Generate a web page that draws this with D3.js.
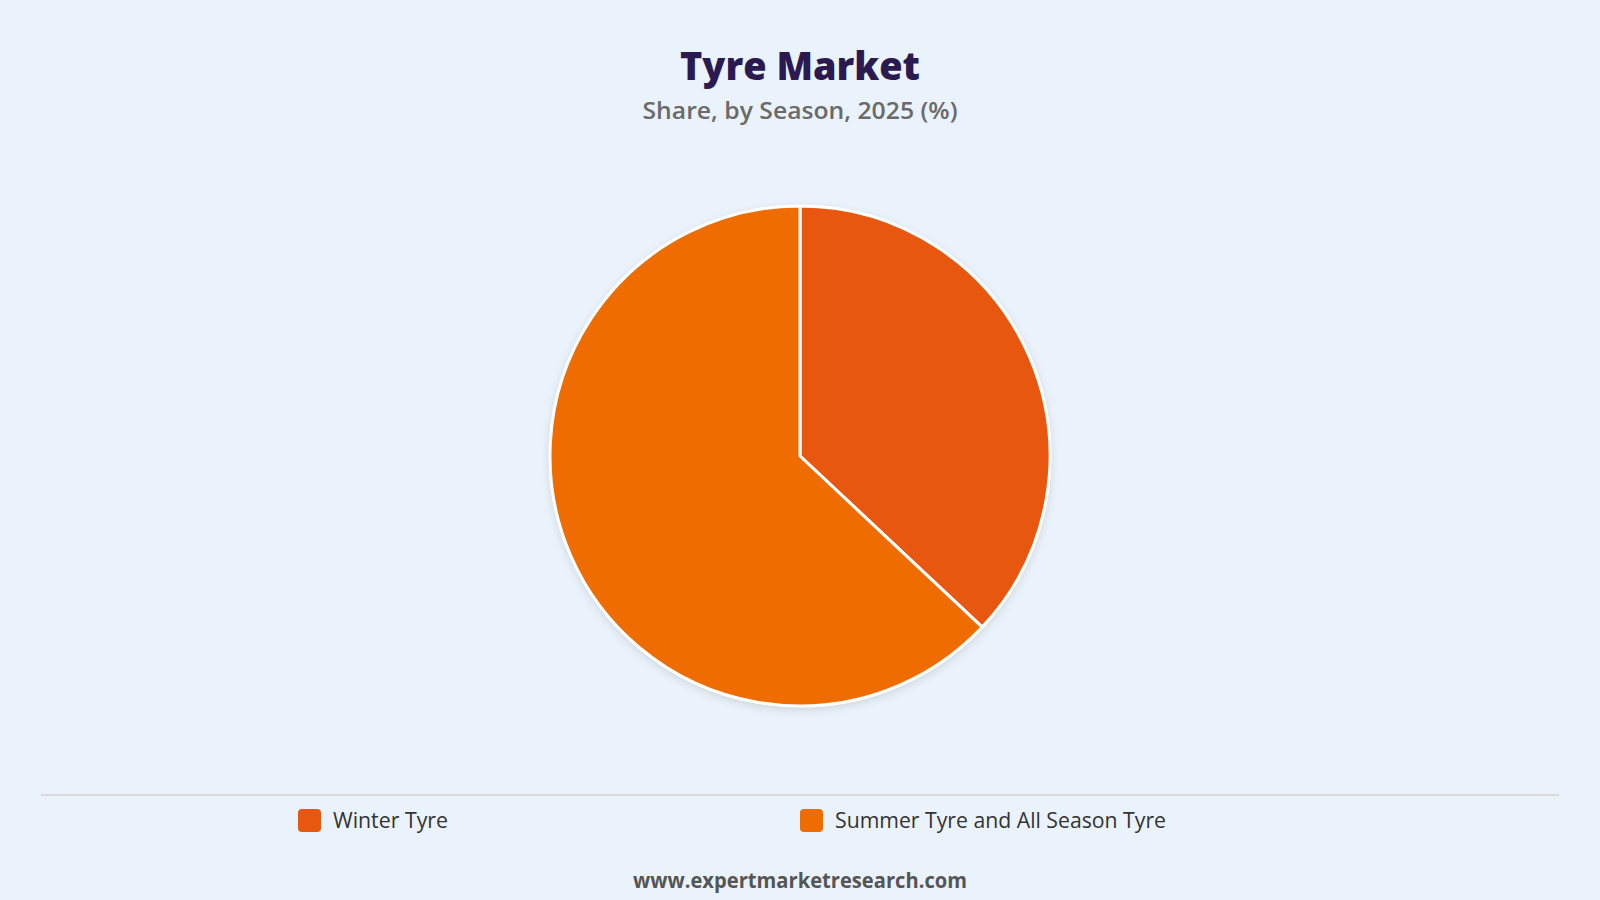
<!DOCTYPE html>
<html>
<head>
<meta charset="utf-8">
<script src="https://cdn.jsdelivr.net/npm/d3@7"></script>
<style>
  body { margin: 0; background: #eaf2fb; }
  svg { display: block; }
</style>
</head>
<body>
<div id="chart"></div>
<script>
var categories = ["Winter Tyre", "Summer Tyre and All Season Tyre"];
var shares = [37, 63];
var colors = ["#e8570f", "#ee6c00"];

var svgWidth = 1600;
var svgHeight = 900;

var svg = d3.select("#chart")
  .append("svg")
  .attr("width", svgWidth)
  .attr("height", svgHeight);

svg.append("rect")
  .attr("width", svgWidth)
  .attr("height", svgHeight)
  .attr("fill", "#eaf2fb");

var defs = svg.append("defs");
var shadow = defs.append("filter")
  .attr("id", "shadow")
  .attr("x", "-20%").attr("y", "-20%")
  .attr("width", "140%").attr("height", "140%");
shadow.append("feDropShadow")
  .attr("dx", 0).attr("dy", 3)
  .attr("stdDeviation", 4)
  .attr("flood-color", "#000")
  .attr("flood-opacity", 0.12);

svg.append("text")
  .attr("x", 800)
  .attr("y", 80)
  .attr("text-anchor", "middle")
  .attr("font-family", "Open Sans, sans-serif")
  .attr("font-weight", 800)
  .attr("font-size", "39px")
  .attr("fill", "#2b1a4f")
  .attr("textLength", 240)
  .attr("lengthAdjust", "spacingAndGlyphs")
  .text("Tyre Market");

svg.append("text")
  .attr("x", 800)
  .attr("y", 119)
  .attr("text-anchor", "middle")
  .attr("font-family", "Open Sans, sans-serif")
  .attr("font-weight", 600)
  .attr("font-size", "24px")
  .attr("fill", "#6a6a6a")
  .attr("textLength", 315)
  .attr("lengthAdjust", "spacingAndGlyphs")
  .text("Share, by Season, 2025 (%)");

var radius = 250;
var pieGroup = svg.append("g")
  .attr("transform", "translate(800, 456)");

var pie = d3.pie().sort(null).value(d => d);
var arc = d3.arc().innerRadius(0).outerRadius(radius);

pieGroup.append("circle")
  .attr("r", radius + 1)
  .attr("fill", "#ffffff")
  .attr("filter", "url(#shadow)");

pieGroup.selectAll("path")
  .data(pie(shares))
  .enter()
  .append("path")
  .attr("d", arc)
  .attr("fill", (d, i) => colors[i])
  .attr("stroke", "#ffffff")
  .attr("stroke-width", 3)
  .attr("stroke-linejoin", "round");

svg.append("line")
  .attr("x1", 41).attr("x2", 1559)
  .attr("y1", 795).attr("y2", 795)
  .attr("stroke", "#d9d9d9")
  .attr("stroke-width", 2);

var legendX = d3.scalePoint()
  .domain(categories)
  .range([298, 800]);

var legend = svg.selectAll(".legend")
  .data(categories)
  .enter()
  .append("g")
  .attr("class", "legend")
  .attr("transform", d => `translate(${legendX(d)}, 809)`);

legend.append("rect")
  .attr("width", 23)
  .attr("height", 23)
  .attr("rx", 4)
  .attr("fill", (d, i) => colors[i]);

legend.append("text")
  .attr("x", 35)
  .attr("y", 19)
  .attr("font-family", "Open Sans, sans-serif")
  .attr("font-size", "21px")
  .attr("fill", "#333333")
  .attr("textLength", (d, i) => i === 0 ? 115 : 331)
  .attr("lengthAdjust", "spacingAndGlyphs")
  .text(d => d);

svg.append("text")
  .attr("x", 800)
  .attr("y", 888)
  .attr("text-anchor", "middle")
  .attr("font-family", "Open Sans, sans-serif")
  .attr("font-weight", 700)
  .attr("font-size", "21px")
  .attr("fill", "#555555")
  .attr("textLength", 334)
  .attr("lengthAdjust", "spacingAndGlyphs")
  .text("www.expertmarketresearch.com");
</script>
</body>
</html>
